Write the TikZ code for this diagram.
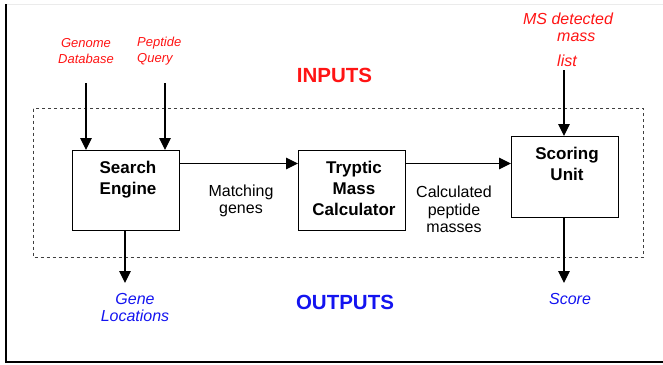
\documentclass[tikz,border=0pt]{standalone}
\usepackage{fontspec}
\setmainfont{Liberation Sans}
\usetikzlibrary{arrows.meta}
\definecolor{inred}{RGB}{255,20,20}
\definecolor{outblue}{RGB}{20,20,240}
\tikzset{
  x=1pt, y=-1pt,
  block/.style={draw=black, line width=1.4pt, minimum width=107pt, inner sep=0pt,
    font=\fontsize{17}{21}\selectfont\bfseries, align=center},
  flow/.style={line width=1.2pt, -{Triangle[length=12pt,width=11.5pt]}},
  inlabel/.style={text=inred, font=\fontsize{13}{16}\selectfont\itshape, align=center, inner sep=0pt},
  outlabel/.style={text=outblue, font=\fontsize{16}{17}\selectfont\itshape, align=center, inner sep=0pt},
  midlabel/.style={font=\fontsize{16}{17.5}\selectfont, align=center, inner sep=0pt},
  heading/.style={font=\fontsize{20.5}{22}\selectfont\bfseries, inner sep=0pt}
}
\begin{document}
\begin{tikzpicture}
\useasboundingbox (0,0) rectangle (663,364);
% frame
\draw[black!8, line width=0.8pt] (5.5,4) -- (663,4);
\draw[black, line width=2pt] (5.5,4) -- (5.5,361.5) -- (663,361.5);

% dashed system boundary
\draw[dashed, line width=0.9pt, black!75] (33,108.5) rectangle (643.5,257);

% processing blocks
\node[block, minimum height=80pt, anchor=north west] (se) at (72,150) {};
\node[block, minimum height=80pt, anchor=north west] (tm) at (298,150) {};
\node[block, minimum height=81pt, anchor=north west] (su) at (511,136) {};
\node[font=\fontsize{17}{21}\selectfont\bfseries, align=center, anchor=north] (setext) at (128,158) {Search\\Engine};
\node[font=\fontsize{17}{21}\selectfont\bfseries, align=center, anchor=north] (tmtext) at (354,158) {Tryptic\\Mass\\Calculator};
\node[font=\fontsize{17}{21}\selectfont\bfseries, align=center, anchor=north] (sutext) at (567,144) {Scoring\\Unit};

% headings
\node[heading, text=inred] (inputs) at (334.5,75.5) {INPUTS};
\node[heading, text=outblue] (outputs) at (345,302) {OUTPUTS};

% input labels
\node[inlabel] (genome) at (86,51) {Genome\\Database};
\node[inlabel, align=left, anchor=west] (peptide) at (137,51) {Peptide\\Query};
\node[text=inred, font=\fontsize{16}{17}\selectfont\itshape, inner sep=0pt] (ms) at (568,19) {MS detected};
\node[text=inred, font=\fontsize{16}{17}\selectfont\itshape, inner sep=0pt, anchor=west] (mass) at (557,37) {mass};
\node[text=inred, font=\fontsize{16}{17}\selectfont\itshape, inner sep=0pt, anchor=west] (list) at (557,60.5) {list};
\coordinate (gtop) at (86,83);
\coordinate (ptop) at (165,83);
\coordinate (mtop) at (564,70);

% middle labels
\node[midlabel] (match) at (241,201) {Matching\\genes};
\node[midlabel] (calc) at (454,209.5) {Calculated\\peptide\\masses};

% output labels
\node[outlabel] (gene) at (135,307.5) {Gene\\Locations};
\node[outlabel] (score) at (570,299) {Score};
\coordinate (gout) at (125,283);
\coordinate (sout) at (564,283);

% connectors
\draw[flow] (gtop) -- (gtop |- se.north);
\draw[flow] (ptop) -- (ptop |- se.north);
\draw[flow] (mtop) -- (mtop |- su.north);
\draw[flow] (se.east |- 0,163.5) -- (tm.west |- 0,163.5);
\draw[flow] (tm.east |- 0,163.5) -- (su.west |- 0,163.5);
\draw[flow] (gout |- se.south) -- (gout);
\draw[flow] (sout |- su.south) -- (sout);
\end{tikzpicture}
\end{document}
